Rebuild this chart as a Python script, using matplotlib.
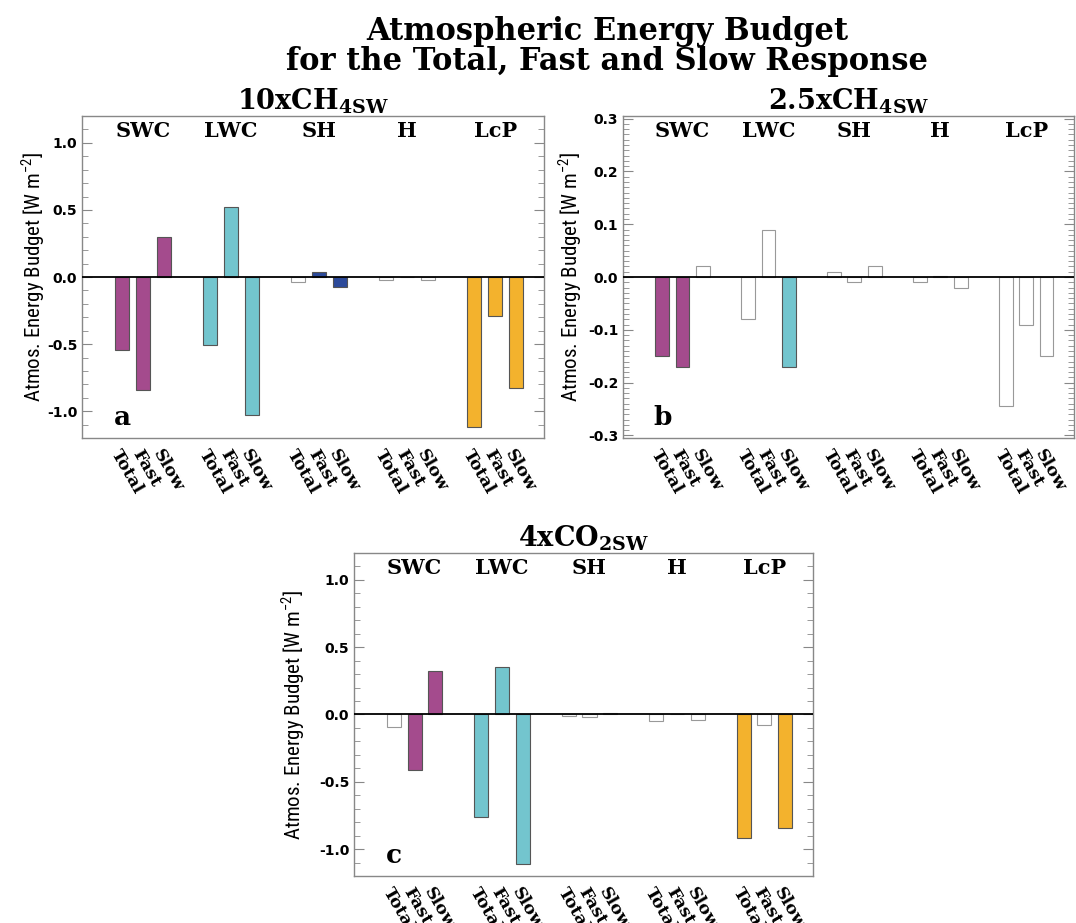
import numpy as np
import matplotlib
matplotlib.use('Agg')
import matplotlib.pyplot as plt
import matplotlib.transforms as mtransforms
from matplotlib.ticker import MultipleLocator, FormatStrFormatter

plt.rcParams['mathtext.fontset'] = 'custom'
plt.rcParams['mathtext.bf'] = 'DejaVu Serif:bold'
plt.rcParams['mathtext.rm'] = 'DejaVu Serif'

# budget terms and response types
terms = ['SWC', 'LWC', 'SH', 'H', 'LcP']
responses = ['Total', 'Fast', 'Slow']

# 10xCH4 (SW) experiment, Total/Fast/Slow for each term
ch4_10_vals = [-0.545, -0.845, 0.30,
               -0.505, 0.52, -1.025,
               -0.035, 0.04, -0.077,
               -0.02, 0.0, -0.02,
               -1.115, -0.287, -0.825]
ch4_10_sig = [1, 1, 1,
              1, 1, 1,
              0, 1, 1,
              0, 0, 0,
              1, 1, 1]

# 2.5xCH4 (SW)
ch4_25_vals = [-0.15, -0.17, 0.02,
               -0.08, 0.09, -0.17,
               0.01, -0.01, 0.02,
               -0.01, 0.002, -0.02,
               -0.244, -0.09, -0.15]
ch4_25_sig = [1, 1, 0,
              0, 0, 1,
              0, 0, 0,
              0, 0, 0,
              0, 0, 0]

# 4xCO2 (SW)
co2_4_vals = [-0.09, -0.41, 0.32,
              -0.76, 0.35, -1.11,
              -0.01, -0.015, 0.008,
              -0.05, 0.0, -0.04,
              -0.92, -0.08, -0.84]
co2_4_sig = [0, 1, 1,
             1, 1, 1,
             0, 0, 0,
             0, 0, 0,
             1, 0, 1]

term_colors = {'SWC': '#a44b8d', 'LWC': '#73c5ce', 'SH': '#2c4a9a',
               'H': '#888888', 'LcP': '#f3b22d'}

serif_bold = dict(family='DejaVu Serif', weight='bold')
label_font = dict(family=['Roboto Condensed', 'Liberation Sans Narrow', 'DejaVu Sans'],
                  stretch='condensed')


def draw_panel(ax, vals, sig, ylim, major, minor, letter, title, ylab_x):
    xs = []
    for g in range(len(terms)):
        for b in range(len(responses)):
            xs.append(g * 4.23 + b)
    cols, edges = [], []
    for i, s in enumerate(sig):
        if s:
            cols.append(term_colors[terms[i // 3]])
            edges.append('#555555')
        else:
            cols.append('white')
            edges.append('#999999')
    ax.bar(xs, vals, width=0.68, color=cols, edgecolor=edges, linewidth=0.8, zorder=2)
    ax.axhline(0, color='black', lw=1.3, zorder=3)

    ax.set_xlim(-1.93, 20.27)
    ax.set_ylim(-ylim, ylim)
    ax.yaxis.set_major_locator(MultipleLocator(major))
    ax.yaxis.set_minor_locator(MultipleLocator(minor))
    ax.yaxis.set_major_formatter(FormatStrFormatter('%.1f'))
    ax.tick_params(axis='y', which='both', direction='in', left=True, right=True,
                   color='#888888', labelsize=10)
    ax.tick_params(axis='y', which='major', length=7)
    ax.tick_params(axis='y', which='minor', length=4)
    for t in ax.get_yticklabels():
        t.set_fontweight('bold')
    ax.set_xticks(xs, labels=responses * len(terms))
    ax.tick_params(axis='x', length=0, pad=6)
    for t in ax.get_xticklabels():
        t.set_rotation(-60)
        t.set_ha('left')
        t.set_va('top')
        t.set_rotation_mode('anchor')
        t.set_fontsize(12.5)
        t.set_fontfamily('DejaVu Serif')
        t.set_fontweight('bold')
    for sp in ax.spines.values():
        sp.set_color('#888888')
        sp.set_linewidth(1.0)

    trans = mtransforms.blended_transform_factory(ax.transData, ax.transAxes)
    for g, name in enumerate(terms):
        ax.text(g * 4.23 + 1, 0.952, name, transform=trans, ha='center', va='center',
                fontsize=15, **serif_bold)
    ax.text(0, 0.065, letter, transform=trans, ha='center', va='center',
            fontsize=19, **serif_bold)

    ax.set_title(title, fontsize=19.5, pad=5)
    ax.set_ylabel(r'Atmos. Energy Budget [W m$^{\mathregular{-2}}$]', fontsize=15, **label_font)
    ax.yaxis.set_label_coords(ylab_x, 0.5)


fig = plt.figure(figsize=(10.76, 9.23), dpi=100)
ax_a = fig.add_axes([0.0762, 0.5254, 0.4294, 0.3489])
ax_b = fig.add_axes([0.5790, 0.5254, 0.4191, 0.3489])
ax_c = fig.add_axes([0.3290, 0.0509, 0.4266, 0.3500])

draw_panel(ax_a, ch4_10_vals, ch4_10_sig, 1.2, 0.5, 0.1, 'a',
           r'$\mathbf{10xCH_{4SW}}$', -0.076)
draw_panel(ax_b, ch4_25_vals, ch4_25_sig, 0.305, 0.1, 0.01, 'b',
           r'$\mathbf{2.5xCH_{4SW}}$', -0.087)
draw_panel(ax_c, co2_4_vals, co2_4_sig, 1.2, 0.5, 0.1, 'c',
           r'$\mathbf{4xCO_{2SW}}$', -0.103)

fig.text(0.564, 0.966, 'Atmospheric Energy Budget', ha='center', va='center',
         fontsize=22, **serif_bold)
fig.text(0.564, 0.933, 'for the Total, Fast and Slow Response', ha='center', va='center',
         fontsize=22, **serif_bold)

fig.savefig('out.png', dpi=100)
